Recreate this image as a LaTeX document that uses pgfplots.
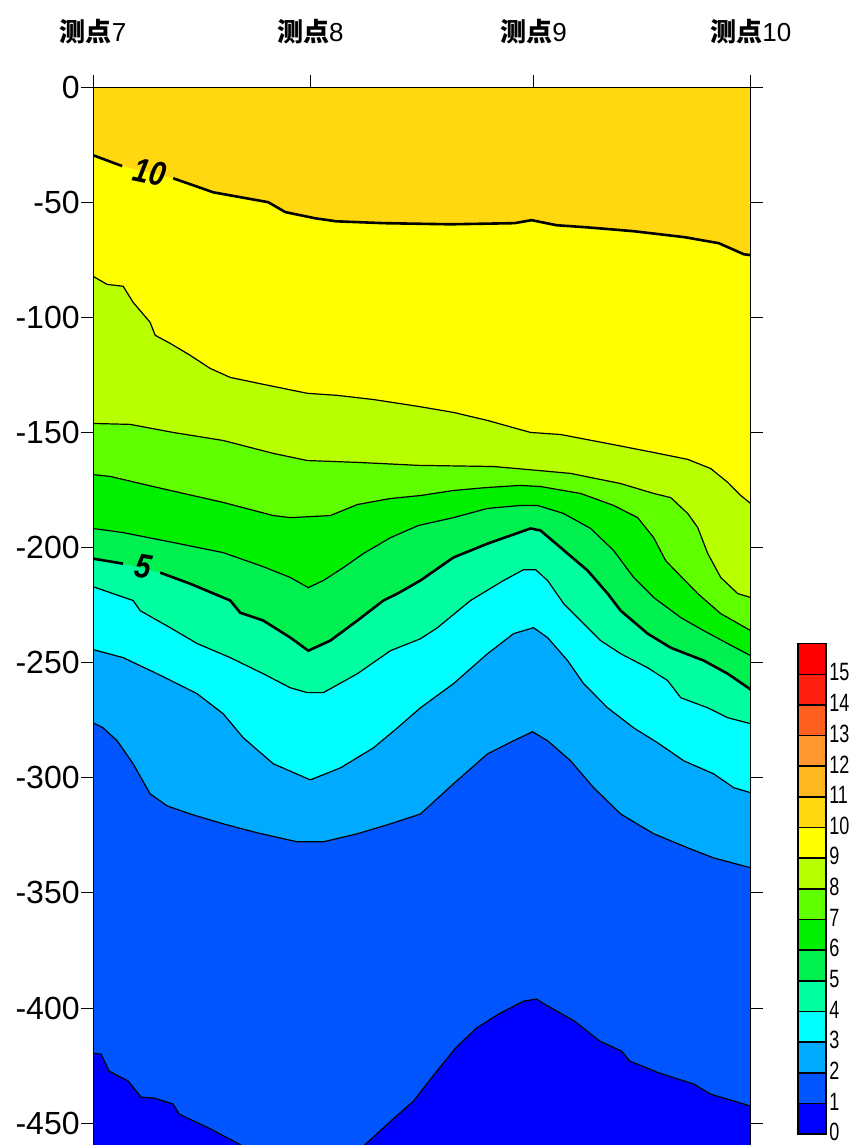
\documentclass[border=0pt]{standalone}
\usepackage{fontspec}
\setmainfont{Liberation Sans}
\newfontfamily\cjk{Noto Sans CJK SC}
\newfontfamily\narrowfont{Liberation Sans}[FakeStretch=0.72]
\newfontfamily\clabfont{Liberation Sans}[FakeStretch=0.85]
\usepackage{pgfplots}
\usepackage{pgfplotstable}
\pgfplotsset{compat=1.18}

% band colours, band k = values k..k+1
\definecolor{b0}{RGB}{0,0,255}
\definecolor{b1}{RGB}{0,85,255}
\definecolor{b2}{RGB}{0,170,255}
\definecolor{b3}{RGB}{0,255,255}
\definecolor{b4}{RGB}{0,255,160}
\definecolor{b5}{RGB}{0,240,80}
\definecolor{b6}{RGB}{0,240,0}
\definecolor{b7}{RGB}{96,255,0}
\definecolor{b8}{RGB}{184,255,0}
\definecolor{b9}{RGB}{255,255,0}
\definecolor{b10}{RGB}{255,216,16}
\definecolor{b11}{RGB}{255,184,32}
\definecolor{b12}{RGB}{255,152,48}
\definecolor{b13}{RGB}{255,96,32}
\definecolor{b14}{RGB}{255,32,16}
\definecolor{b15}{RGB}{255,0,0}

% contour lines: x = distance along profile, y = depth
\pgfplotstableread{
x y
0 -29.6
29 -34.3
80 -39.6
120 -45.7
175 -50.0
192 -54.3
222 -57.0
243 -58.3
290 -59.1
357 -59.6
421 -59.1
438 -57.8
463 -60.0
493 -60.9
540 -62.6
591 -65.2
625 -67.8
650 -72.6
657 -73.0
}\cten

\pgfplotstableread{
x y
0 -82.2
14 -85.7
30 -86.5
40 -93.5
57 -102.2
62 -107.8
77 -111.3
97 -116.5
117 -122.2
137 -126.1
170 -129.1
214 -133.0
244 -133.9
280 -135.7
325 -138.7
360 -141.3
394 -144.8
437 -150.0
467 -150.9
514 -154.8
560 -158.7
594 -161.7
617 -165.7
634 -171.7
647 -177.4
657 -180.9
}\cnine

\pgfplotstableread{
x y
0 -146.1
37 -146.5
80 -150.0
130 -153.5
180 -159.1
214 -162.2
264 -163.0
325 -164.3
400 -164.8
434 -166.1
477 -167.8
527 -172.2
560 -176.5
577 -178.3
594 -185.2
604 -191.3
614 -202.6
627 -213.0
644 -220.0
657 -221.7
}\ceight

\pgfplotstableread{
x y
0 -168.3
17 -169.1
64 -173.9
130 -180.4
180 -186.1
197 -187.0
237 -186.1
264 -181.3
297 -178.7
327 -177.4
360 -175.2
394 -173.9
427 -173.0
447 -173.5
487 -176.5
520 -181.7
544 -187.0
560 -195.7
572 -205.7
604 -220.0
627 -228.7
657 -236.1
}\cseven

\pgfplotstableread{
x y
0 -191.7
30 -193.5
80 -197.8
130 -202.2
170 -208.3
197 -213.0
215 -217.4
230 -214.3
250 -208.7
270 -202.6
297 -195.7
325 -190.4
360 -187.0
394 -183.0
427 -181.7
444 -181.7
470 -185.2
497 -191.7
520 -201.3
540 -213.0
560 -221.7
587 -230.4
610 -236.1
634 -241.7
657 -247.0
}\csix

\pgfplotstableread{
x y
0 -204.8
30 -207.0
67 -210.9
97 -215.7
137 -223.0
147 -228.3
170 -231.7
197 -239.1
215 -244.8
237 -240.4
264 -231.7
290 -223.0
304 -220.0
327 -214.3
360 -204.3
394 -198.3
437 -191.7
447 -192.6
474 -202.6
494 -210.0
514 -220.0
527 -227.4
554 -237.4
577 -243.5
610 -249.1
634 -254.8
657 -261.7
}\cfive

\pgfplotstableread{
x y
0 -217.0
40 -223.0
47 -227.4
77 -234.8
104 -241.7
137 -247.8
170 -254.8
197 -260.9
214 -263.0
230 -263.0
264 -254.8
297 -244.8
327 -239.6
344 -234.8
377 -223.0
410 -214.3
430 -209.6
442 -209.6
454 -214.3
470 -224.3
487 -231.7
507 -240.4
527 -246.1
554 -252.2
574 -257.8
587 -265.2
614 -269.6
634 -273.9
657 -276.5
}\cfour

\pgfplotstableread{
x y
0 -244.3
30 -247.8
64 -254.8
104 -263.5
130 -272.2
150 -282.6
180 -293.9
217 -300.9
247 -295.7
280 -287.0
304 -278.3
327 -269.6
360 -259.1
394 -246.1
420 -237.4
440 -234.8
454 -239.1
474 -249.1
490 -259.1
514 -269.6
540 -278.3
564 -284.8
590 -292.6
620 -298.3
640 -304.3
657 -306.5
}\cthree

\pgfplotstableread{
x y
0 -276.1
10 -278.3
24 -283.9
40 -293.9
57 -307.0
74 -312.2
97 -315.7
130 -320.0
164 -323.9
204 -327.8
230 -327.8
264 -324.3
297 -320.0
327 -315.7
360 -302.6
394 -289.6
420 -283.9
439 -280.0
454 -283.9
477 -292.6
500 -304.3
527 -315.7
560 -324.3
594 -330.4
620 -334.8
657 -339.1
}\ctwo

\pgfplotstableread{
x y
0 -419.6
8 -420.0
16 -427.4
35 -431.7
48 -438.7
61 -439.1
80 -441.7
86 -446.1
116 -452.2
146 -459.1
207 -475.2
269 -460.4
294 -450.4
320 -440.4
341 -428.7
362 -417.4
383 -408.7
405 -402.6
430 -397.0
443 -396.1
451 -398.3
481 -405.7
506 -414.3
528 -418.7
536 -423.0
566 -428.3
600 -433.0
617 -437.4
657 -442.6
}\cone

\begin{document}
\begin{tikzpicture}
\useasboundingbox (-46.5pt,0.6pt) rectangle (380pt,572.5pt);
\begin{axis}[
    at={(0pt,0pt)}, anchor=south west,
    scale only axis, width=328.5pt, height=529pt,
    xmin=0, xmax=657, ymin=-460, ymax=0,
    axis on top,
    axis background/.style={fill=b0},
    xtick={0,217,440,657},
    xticklabels={{\cjk\bfseries 测点}7,{\cjk\bfseries 测点}8,{\cjk\bfseries 测点}9,{\cjk\bfseries 测点}10},
    xtick pos=right, xticklabel pos=right,
    ytick={-450,-400,-350,-300,-250,-200,-150,-100,-50,0},
    yticklabels={-450,-400,-350,-300,-250,-200,-150,-100,-50,0},
    tick align=outside, major tick length=6pt,
    tick style={black, line width=0.5pt},
    axis line style={black, line width=0.5pt},
    xticklabel style={font=\fontsize{13}{15}\selectfont, yshift=12pt},
    yticklabel style={font=\fontsize{16}{18}\selectfont, inner xsep=0.5pt},
]
    % filled bands, each fill covers everything above its contour
    \addplot[draw=none, fill=b1] table {\cone} \closedcycle;
    \addplot[draw=none, fill=b2] table {\ctwo} \closedcycle;
    \addplot[draw=none, fill=b3] table {\cthree} \closedcycle;
    \addplot[draw=none, fill=b4] table {\cfour} \closedcycle;
    \addplot[draw=none, fill=b5] table {\cfive} \closedcycle;
    \addplot[draw=none, fill=b6] table {\csix} \closedcycle;
    \addplot[draw=none, fill=b7] table {\cseven} \closedcycle;
    \addplot[draw=none, fill=b8] table {\ceight} \closedcycle;
    \addplot[draw=none, fill=b9] table {\cnine} \closedcycle;
    \addplot[draw=none, fill=b10] table {\cten} \closedcycle;

    % contour lines
    \addplot[black, line width=0.6pt] table {\cone};
    \addplot[black, line width=0.6pt] table {\ctwo};
    \addplot[black, line width=0.6pt] table {\cthree};
    \addplot[black, line width=0.6pt] table {\cfour};
    \addplot[black, line width=1.3pt, unbounded coords=jump, restrict x to domain=0:31] table {\cfive};
    \addplot[black, line width=1.3pt, unbounded coords=jump, restrict x to domain=66:700] table {\cfive};
    \addplot[black, line width=0.6pt] table {\csix};
    \addplot[black, line width=0.6pt] table {\cseven};
    \addplot[black, line width=0.6pt] table {\ceight};
    \addplot[black, line width=0.6pt] table {\cnine};
    \addplot[black, line width=1.3pt, unbounded coords=jump, restrict x to domain=0:30] table {\cten};
    \addplot[black, line width=1.3pt, unbounded coords=jump, restrict x to domain=79:700] table {\cten};

    \node[rotate=-12, font=\clabfont\bfseries\itshape\fontsize{17}{19}\selectfont] at (axis cs:57,-37) {10};
    \node[rotate=-10, font=\clabfont\bfseries\itshape\fontsize{17}{19}\selectfont] at (axis cs:50,-208.3) {5};
\end{axis}

% colour scale
\begin{axis}[
    at={(352pt,6pt)}, anchor=south west,
    scale only axis, width=14pt, height=245pt,
    xmin=-0.5, xmax=0.5, ymin=0, ymax=16,
    ybar stacked, bar width=14pt,
    xtick=\empty,
    ytick={0,1,2,3,4,5,6,7,8,9,10,11,12,13,14,15},
    yticklabels={0,1,2,3,4,5,6,7,8,9,10,11,12,13,14,15},
    yticklabel pos=right, major tick length=0pt,
    yticklabel style={font=\narrowfont\fontsize{12.5}{14}\selectfont, inner xsep=1.5pt, yshift=1pt},
    axis line style={black, line width=0.8pt},
    axis on top,
]
    \addplot[fill=b0, draw=black, line width=0.8pt] coordinates {(0,1)};
    \addplot[fill=b1, draw=black, line width=0.8pt] coordinates {(0,1)};
    \addplot[fill=b2, draw=black, line width=0.8pt] coordinates {(0,1)};
    \addplot[fill=b3, draw=black, line width=0.8pt] coordinates {(0,1)};
    \addplot[fill=b4, draw=black, line width=0.8pt] coordinates {(0,1)};
    \addplot[fill=b5, draw=black, line width=0.8pt] coordinates {(0,1)};
    \addplot[fill=b6, draw=black, line width=0.8pt] coordinates {(0,1)};
    \addplot[fill=b7, draw=black, line width=0.8pt] coordinates {(0,1)};
    \addplot[fill=b8, draw=black, line width=0.8pt] coordinates {(0,1)};
    \addplot[fill=b9, draw=black, line width=0.8pt] coordinates {(0,1)};
    \addplot[fill=b10, draw=black, line width=0.8pt] coordinates {(0,1)};
    \addplot[fill=b11, draw=black, line width=0.8pt] coordinates {(0,1)};
    \addplot[fill=b12, draw=black, line width=0.8pt] coordinates {(0,1)};
    \addplot[fill=b13, draw=black, line width=0.8pt] coordinates {(0,1)};
    \addplot[fill=b14, draw=black, line width=0.8pt] coordinates {(0,1)};
    \addplot[fill=b15, draw=black, line width=0.8pt] coordinates {(0,1)};
\end{axis}
\end{tikzpicture}
\end{document}
